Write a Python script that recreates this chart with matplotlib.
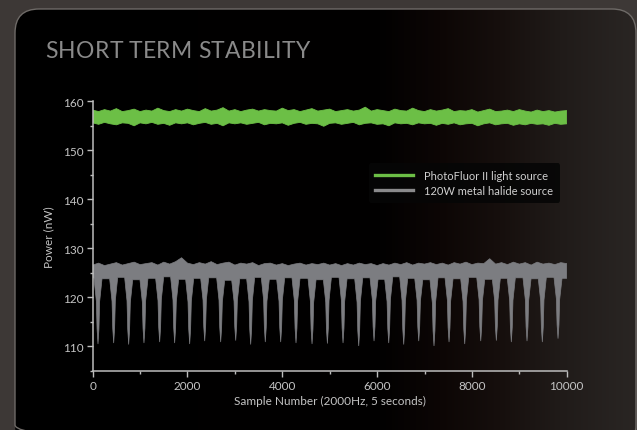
import numpy as np
import matplotlib.pyplot as plt
from matplotlib.patches import FancyBboxPatch
from matplotlib.lines import Line2D
from matplotlib.ticker import MultipleLocator

# ########## data ##########
# PhotoFluor II band: upper / lower edge of the noise, evenly spaced over 0..10000
green_top = [158.2, 157.9, 158.3, 158.0, 158.5, 157.9, 158.1, 158.4, 157.9, 158.2, 158.0, 158.6,
             158.1, 157.9, 158.3, 158.0, 158.4, 158.1, 157.9, 158.5, 158.0, 158.2, 158.7, 158.0,
             158.3, 157.9, 158.2, 158.4, 158.0, 158.3, 158.1, 158.0, 158.6, 158.1, 158.3, 157.9,
             158.2, 158.5, 158.0, 158.2, 158.4, 157.9, 158.1, 158.3, 158.0, 158.2, 158.8, 158.0,
             158.3, 158.1, 157.9, 158.4, 158.1, 158.0, 158.6, 158.1, 157.9, 158.3, 158.0, 158.2,
             158.5, 157.9, 158.1, 158.0, 158.3, 157.8, 158.1, 158.4, 157.9, 158.0, 158.2, 157.9,
             158.3, 158.0, 157.8, 158.2, 157.9, 158.1, 157.8, 158.0, 158.1]
green_low = [155.6, 155.3, 155.7, 155.4, 155.2, 155.6, 155.5, 155.0, 155.6, 155.4, 155.7, 155.3,
             155.5, 155.1, 155.6, 155.4, 155.6, 155.2, 155.5, 155.7, 155.3, 155.5, 155.0, 155.6,
             155.4, 155.6, 155.3, 155.5, 155.7, 155.2, 155.5, 155.4, 155.6, 155.1, 155.5, 155.7,
             155.3, 155.5, 155.4, 154.9, 155.5, 155.6, 155.3, 155.5, 155.7, 155.2, 155.5, 155.6,
             155.3, 155.4, 155.0, 155.6, 155.4, 155.5, 155.2, 155.6, 155.4, 155.5, 155.1, 155.5,
             155.3, 155.6, 155.2, 155.4, 155.5, 155.0, 155.4, 155.6, 155.2, 155.4, 155.5, 155.1,
             155.4, 155.2, 155.5, 155.3, 155.4, 155.1, 155.5, 155.3, 155.4]

# 120W metal halide: top edge of the band, evenly spaced over 0..10000
gray_top = [126.6, 127.0, 126.5, 126.8, 127.1, 126.6, 126.9, 127.2, 126.7, 126.9, 127.1, 126.6,
            127.2, 126.8, 127.3, 128.1, 127.0, 126.7, 127.1, 126.8, 127.3, 126.7, 127.0, 127.2,
            126.6, 127.0, 126.8, 127.1, 126.5, 126.9, 127.0, 126.6, 126.9, 126.5, 126.8, 127.0,
            126.6, 126.9, 126.7, 127.0, 126.6, 126.9, 126.5, 126.9, 126.6, 127.0, 126.7, 126.9,
            126.5, 126.9, 126.6, 127.0, 126.7, 127.1, 126.6, 127.0, 126.8, 127.1, 126.7, 127.0,
            126.6, 127.1, 126.8, 127.2, 126.7, 127.0, 126.9, 127.9, 126.8, 127.1, 126.7, 127.2,
            126.8, 127.1, 126.6, 127.2, 126.8, 127.0, 126.7, 127.1, 126.9]
# floor of the band before / between / after the dips
gray_low = [124.0, 123.8, 124.1, 123.6, 123.9, 124.2, 123.7, 123.9, 124.0, 123.5, 123.8, 124.1,
            123.7, 124.0, 123.9, 123.6, 124.1, 123.8, 124.0, 123.7, 124.2, 123.9, 123.6, 124.0,
            123.8, 124.1, 123.7, 123.9, 124.0, 123.8, 124.1, 123.9]
# the periodic drops: sample number and lowest value
dip_centers = [112, 443, 759, 1082, 1413, 1729, 2046, 2363, 2700, 3017, 3333, 3641, 3966, 4289,
               4627, 4951, 5281, 5612, 5935, 6245, 6561, 6878, 7200, 7517, 7848, 8186, 8515,
               8831, 9162, 9485, 9816]
dip_min = [110.5, 110.7, 110.4, 110.7, 110.9, 110.7, 110.5, 111.1, 110.9, 111.2, 110.4, 110.9,
           110.9, 110.7, 110.5, 110.6, 110.7, 110.1, 111.1, 110.7, 110.4, 111.1, 110.1, 110.9,
           110.5, 111.1, 111.2, 110.9, 111.1, 110.9, 111.6]

labels = ["PhotoFluor II light source", "120W metal halide source"]
title = "SHORT TERM STABILITY"
n_samples = 10000

green = "#6cbf46"
gray = "#7c7d81"
txt = "#c4c4c4"

# ########## figure + panel ##########
fig = plt.figure(figsize=(6.37, 4.31), dpi=100)
fig.patch.set_facecolor("#3d3836")

bg = fig.add_axes([0, 0, 1, 1], zorder=-1)
bg.set_xlim(0, 637)
bg.set_ylim(431, 0)
bg.axis("off")

# horizontal gradient of the panel (black -> warm dark brown)
stops_x = [15, 380, 440, 500, 560, 636]
stops_c = [(0, 0, 0), (2, 1, 1), (12, 6, 5), (22, 15, 13), (32, 27, 25), (42, 38, 36)]
cols = np.arange(637)
grad = np.zeros((1, 637, 3))
for k in range(3):
    grad[0, :, k] = np.interp(cols, stops_x, [c[k] for c in stops_c]) / 255
im = bg.imshow(grad, extent=[0, 637, 431, 0], aspect="auto", interpolation="bilinear")
panel = FancyBboxPatch((15, 10), 621, 440, boxstyle="round,pad=0,rounding_size=24",
                       facecolor="none", edgecolor="#6e6a67", linewidth=1.0)
bg.add_patch(panel)
im.set_clip_path(panel)

# title with letter spacing: place the letters one by one
renderer = fig.canvas.get_renderer()
title_kw = dict(color="#8a8a8a", fontsize=16.5, family="Lato", va="center", ha="left")
widths = []
for ch in title:
    if ch == " ":
        widths.append(5.0)
        continue
    t = bg.text(0, 0, ch, **title_kw)
    widths.append(t.get_window_extent(renderer).width)
    t.remove()
gap = (265 - sum(widths)) / (len(title) - 1)
x = 45
for ch, w in zip(title, widths):
    if ch != " ":
        bg.text(x, 51, ch, **title_kw)
    x += w + gap

# ########## chart ##########
ax = fig.add_axes([0.1455, 0.1369, 0.7442, 0.6258])
ax.set_facecolor("none")

# green band
gx_top = np.linspace(0, n_samples, len(green_top))
gx_low = np.linspace(0, n_samples, len(green_low))
ax.fill(np.concatenate([gx_top, gx_low[::-1]]),
        np.concatenate([green_top, green_low[::-1]]),
        color=green, linewidth=0.6, edgecolor=green)

# gray band with its drops
dip_dx = [85, 35, 20]          # half widths of the drop shape
dip_frac = [0.0, 0.35, 0.77]   # share of the depth reached at those widths
low_x = [0]
low_y = [gray_low[0]]
prev = None
for i, (c, m) in enumerate(zip(dip_centers, dip_min)):
    left = gray_low[i]
    right = gray_low[i + 1]
    if prev is not None:
        low_x.append((prev + c) / 2)
        low_y.append(left)
    for dx, f in zip(dip_dx, dip_frac):
        low_x.append(c - dx)
        low_y.append(left - f * (left - m))
    low_x.append(c)
    low_y.append(m)
    for dx, f in zip(dip_dx[::-1], dip_frac[::-1]):
        low_x.append(c + dx)
        low_y.append(right - f * (right - m))
    prev = c
low_x.append(n_samples)
low_y.append(gray_low[-1])

tx = np.linspace(0, n_samples, len(gray_top))
ax.fill(np.concatenate([tx, low_x[::-1]]),
        np.concatenate([gray_top, low_y[::-1]]),
        color=gray, linewidth=0.5, edgecolor=gray)

ax.set_xlim(0, n_samples)
ax.set_ylim(105, 160)
ax.xaxis.set_major_locator(MultipleLocator(2000))
ax.xaxis.set_minor_locator(MultipleLocator(1000))
ax.yaxis.set_major_locator(MultipleLocator(10))
ax.yaxis.set_minor_locator(MultipleLocator(5))
ax.set_yticks([110, 120, 130, 140, 150, 160])

for s in ["top", "right"]:
    ax.spines[s].set_visible(False)
for s in ["left", "bottom"]:
    ax.spines[s].set_color("#bdbdbd")
    ax.spines[s].set_linewidth(1.1)
ax.tick_params(which="major", length=4.5, width=1.0, color="#bdbdbd",
               labelcolor=txt, labelsize=8.5, pad=2)
ax.tick_params(which="minor", length=2.5, width=1.0, color="#bdbdbd")
for lab in ax.get_xticklabels() + ax.get_yticklabels():
    lab.set_family("Lato")

ax.set_xlabel("Sample Number (2000Hz, 5 seconds)", color=txt, fontsize=8.5,
              family="Lato", labelpad=3)
ax.set_ylabel("Power (nW)", color=txt, fontsize=8.5, family="Lato", labelpad=6)

handles = [Line2D([], [], color=green, linewidth=2.4),
           Line2D([], [], color="#8a8a8c", linewidth=2.4)]
leg = ax.legend(handles, labels, loc="upper right", bbox_to_anchor=(0.997, 0.79),
                frameon=True, fancybox=True, facecolor="#060606", edgecolor="none",
                framealpha=0.9, handlelength=3.4, handletextpad=1.0, labelspacing=0.35,
                borderpad=0.6, prop={"family": "Lato", "size": 8})
for t in leg.get_texts():
    t.set_color("#cfcfcf")

fig.savefig("out.png", dpi=100, facecolor=fig.get_facecolor())
